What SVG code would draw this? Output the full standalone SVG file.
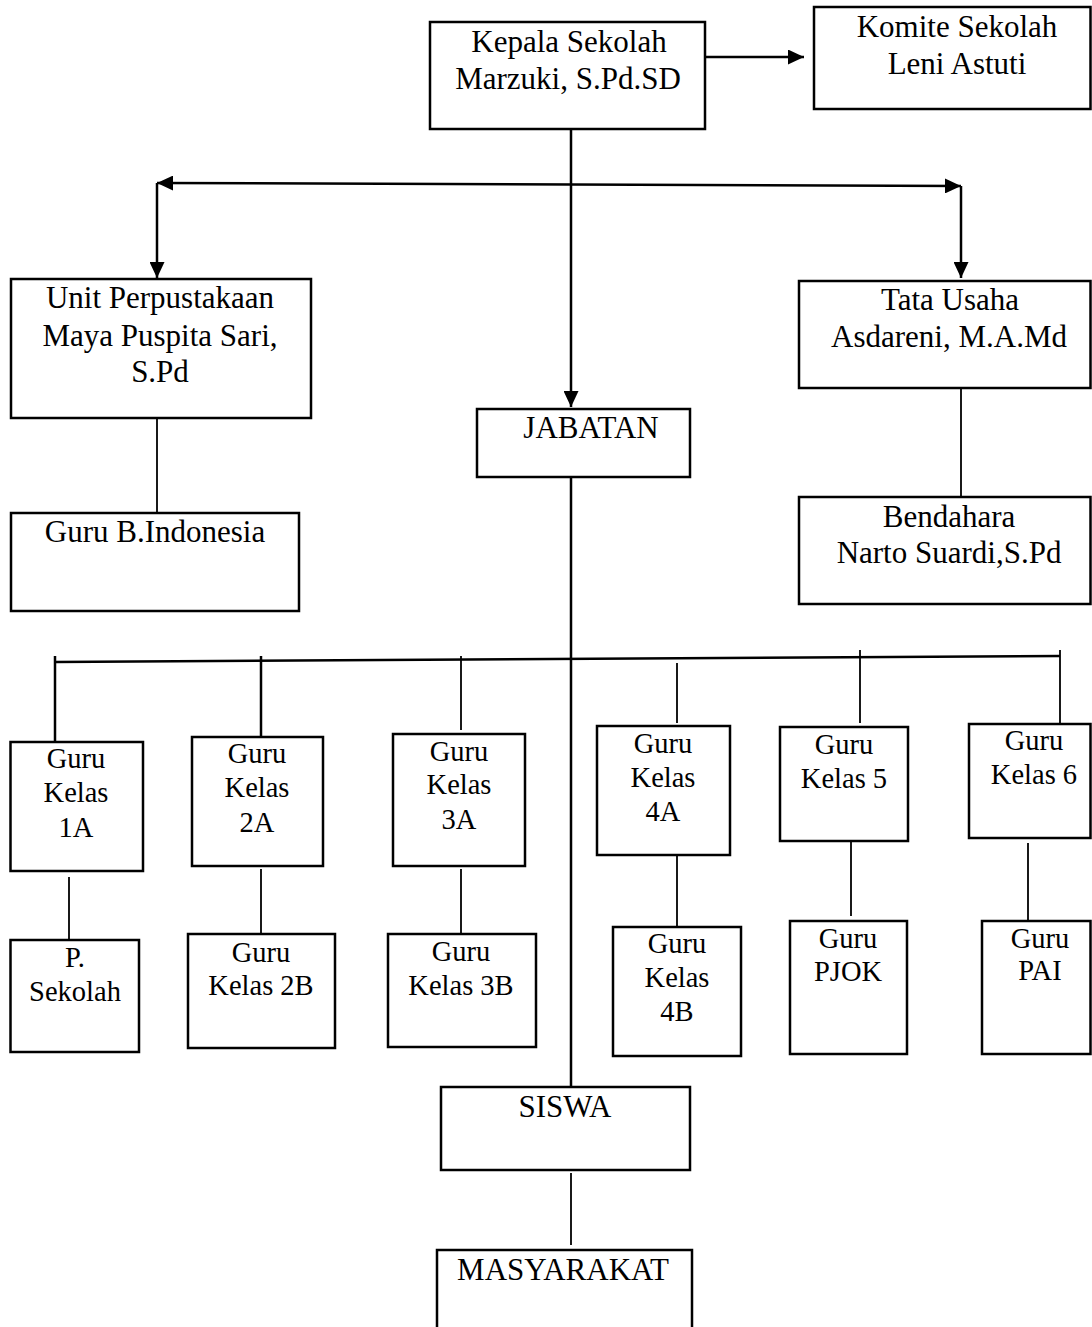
<svg xmlns="http://www.w3.org/2000/svg" width="1092" height="1327" viewBox="0 0 1092 1327">
<style>
.box{fill:#fff;stroke:#000;stroke-width:2.5}
.t{font-family:"Liberation Serif","Times New Roman",serif;font-size:31px;fill:#000;text-anchor:middle}
.s{font-family:"Liberation Serif","Times New Roman",serif;font-size:28.5px;fill:#000;text-anchor:middle}
.ln{stroke:#000;stroke-width:1.8;fill:none}
.ar{stroke:#000;stroke-width:2.5;fill:none}
</style>
<defs>
<marker id="ah" markerUnits="userSpaceOnUse" markerWidth="16" markerHeight="15" refX="16" refY="7.5" orient="auto-start-reverse" viewBox="0 0 16 15">
<path d="M0,0 L16,7.5 L0,15 z" fill="#000"/>
</marker>
</defs>
<rect width="1092" height="1327" fill="#fff"/>
<g id="connectors">
<line class="ar" x1="705" y1="57" x2="804" y2="57" marker-end="url(#ah)"/>
<line class="ar" x1="571" y1="129" x2="571" y2="407" marker-end="url(#ah)"/>
<line class="ar" x1="157" y1="183" x2="961" y2="186" marker-start="url(#ah)" marker-end="url(#ah)"/>
<line class="ar" x1="157" y1="183" x2="157" y2="278" marker-end="url(#ah)"/>
<line class="ar" x1="961" y1="186" x2="961" y2="278" marker-end="url(#ah)"/>
<line class="ln" x1="157" y1="418" x2="157" y2="513"/>
<line class="ln" x1="961" y1="385" x2="961" y2="496"/>
<line class="ar" x1="571" y1="477" x2="571" y2="1087"/>
<line class="ar" x1="55" y1="662" x2="1060" y2="656"/>
<line class="ar" x1="55" y1="656" x2="55" y2="741"/>
<line class="ar" x1="261" y1="656" x2="261" y2="737"/>
<line class="ln" x1="461" y1="656" x2="461" y2="730"/>
<line class="ln" x1="677" y1="663" x2="677" y2="723"/>
<line class="ln" x1="860" y1="650" x2="860" y2="723"/>
<line class="ln" x1="1060" y1="650" x2="1060" y2="723"/>
<line class="ln" x1="69" y1="877" x2="69" y2="940"/>
<line class="ln" x1="261" y1="869" x2="261" y2="934"/>
<line class="ln" x1="461" y1="869" x2="461" y2="934"/>
<line class="ln" x1="677" y1="852" x2="677" y2="927"/>
<line class="ln" x1="851" y1="842" x2="851" y2="916"/>
<line class="ln" x1="1028" y1="843" x2="1028" y2="921"/>
<line class="ln" x1="571" y1="1173" x2="571" y2="1245"/>
</g>
<g id="kepala"><rect class="box" x="430" y="22" width="275" height="107"/><text class="t" x="569" y="52">Kepala Sekolah</text><text class="t" x="568" y="89">Marzuki, S.Pd.SD</text></g>
<g id="komite"><rect class="box" x="814" y="7" width="276.5" height="102"/><text class="t" x="957" y="37">Komite Sekolah</text><text class="t" x="957" y="74">Leni Astuti</text></g>
<g id="perpustakaan"><rect class="box" x="11" y="279" width="300" height="139"/><text class="t" x="160" y="308">Unit Perpustakaan</text><text class="t" x="160" y="346">Maya Puspita Sari,</text><text class="t" x="160" y="382">S.Pd</text></g>
<g id="guru-bindonesia"><rect class="box" x="11" y="513" width="288" height="98"/><text class="t" x="155" y="542">Guru B.Indonesia</text></g>
<g id="tata-usaha"><rect class="box" x="799" y="281" width="291.5" height="107"/><text class="t" x="950" y="310">Tata Usaha</text><text class="t" x="949" y="347">Asdareni, M.A.Md</text></g>
<g id="bendahara"><rect class="box" x="799" y="497" width="291.5" height="107"/><text class="t" x="949" y="527">Bendahara</text><text class="t" x="949" y="563">Narto Suardi,S.Pd</text></g>
<g id="jabatan"><rect class="box" x="477" y="409" width="213" height="68"/><text class="t" x="591" y="438">JABATAN</text></g>
<g id="kelas1a"><rect class="box" x="10.5" y="742" width="132.5" height="129"/><text class="s" x="76" y="768">Guru</text><text class="s" x="76" y="802">Kelas</text><text class="s" x="76" y="837">1A</text></g>
<g id="psekolah"><rect class="box" x="10.5" y="940" width="128.5" height="112"/><text class="s" x="75" y="967">P.</text><text class="s" x="75" y="1001">Sekolah</text></g>
<g id="kelas2a"><rect class="box" x="192" y="737" width="131" height="129"/><text class="s" x="257" y="763">Guru</text><text class="s" x="257" y="797">Kelas</text><text class="s" x="257" y="832">2A</text></g>
<g id="kelas2b"><rect class="box" x="188" y="934" width="147" height="114"/><text class="s" x="261" y="962">Guru</text><text class="s" x="261" y="995">Kelas 2B</text></g>
<g id="kelas3a"><rect class="box" x="393" y="734" width="132" height="132"/><text class="s" x="459" y="761">Guru</text><text class="s" x="459" y="794">Kelas</text><text class="s" x="459" y="829">3A</text></g>
<g id="kelas3b"><rect class="box" x="388" y="934" width="148" height="113"/><text class="s" x="461" y="961">Guru</text><text class="s" x="461" y="995">Kelas 3B</text></g>
<g id="kelas4a"><rect class="box" x="597" y="726" width="133" height="129"/><text class="s" x="663" y="753">Guru</text><text class="s" x="663" y="787">Kelas</text><text class="s" x="663" y="821">4A</text></g>
<g id="kelas4b"><rect class="box" x="613" y="927" width="128" height="129"/><text class="s" x="677" y="953">Guru</text><text class="s" x="677" y="987">Kelas</text><text class="s" x="677" y="1021">4B</text></g>
<g id="kelas5"><rect class="box" x="780" y="727" width="128" height="114"/><text class="s" x="844" y="754">Guru</text><text class="s" x="844" y="788">Kelas 5</text></g>
<g id="pjok"><rect class="box" x="790" y="921" width="117" height="133"/><text class="s" x="848" y="948">Guru</text><text class="s" x="848" y="981">PJOK</text></g>
<g id="kelas6"><rect class="box" x="969" y="724" width="121.5" height="114"/><text class="s" x="1034" y="750">Guru</text><text class="s" x="1034" y="784">Kelas 6</text></g>
<g id="pai"><rect class="box" x="982" y="921" width="108.5" height="133"/><text class="s" x="1040" y="948">Guru</text><text class="s" x="1040" y="980">PAI</text></g>
<g id="siswa"><rect class="box" x="441" y="1087" width="249" height="83"/><text class="t" x="565" y="1117">SISWA</text></g>
<g id="masyarakat"><rect class="box" x="437" y="1250" width="255" height="90"/><text class="t" x="563" y="1280">MASYARAKAT</text></g>
</svg>
